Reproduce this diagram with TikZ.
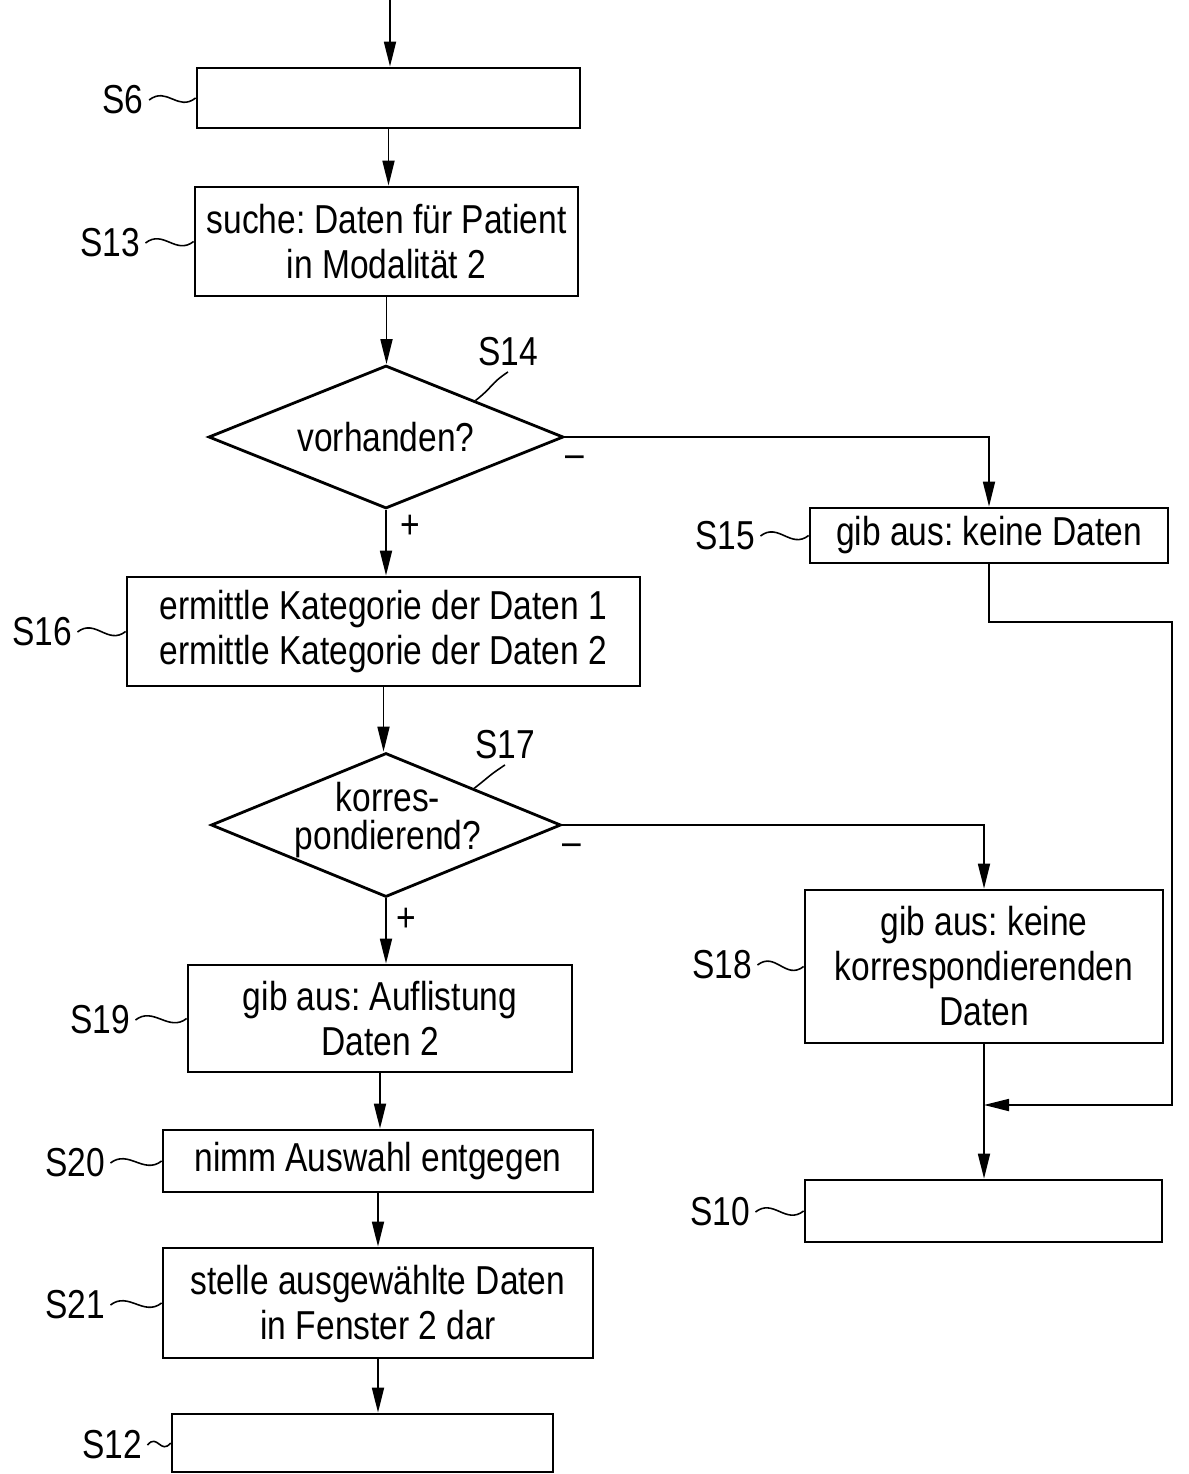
\documentclass[tikz,border=0pt]{standalone}
\usepackage{fontspec}
\setmainfont[FakeStretch=0.83]{Liberation Sans}
\frenchspacing
\usetikzlibrary{arrows.meta,shapes.geometric}

\begin{document}
\begin{tikzpicture}[x=0.02cm,y=-0.02cm,
    every node/.style={font=\fontsize{23}{25.6}\selectfont},
    box/.style={draw,line width=1.6pt,align=center,inner sep=0pt},
    dec/.style={draw,diamond,line width=1.6pt,inner sep=0pt},
    flow/.style={line width=1pt,-{Triangle[length=0.5cm,width=0.24cm]}},
    squig/.style={line width=0.9pt},
    lbl/.style={inner sep=3pt}]
            \useasboundingbox (0,0) rectangle (1189,1474);

            % Main column
            \coordinate (top) at (390,0);
            \node [box,minimum width=7.66cm,minimum height=1.2cm] (s6) at (388.5,98) {};
            \node [box,minimum width=7.66cm,minimum height=2.18cm] (s13) at (386.5,241.5) {suche: Daten für Patient\\in Modalität 2};
            \node [dec,minimum width=7.1cm,minimum height=2.86cm] (d14) at (386,437) {};
            \node (t14) at (d14) {vorhanden?};
            \node [box,minimum width=10.26cm,minimum height=2.18cm] (s16) at (383.5,631.5) {ermittle Kategorie der Daten 1\\ermittle Kategorie der Daten 2};
            \node [dec,minimum width=7.0cm,minimum height=2.88cm] (d17) at (386,825) {};
            \node [align=center,font=\fontsize{23}{21.6}\selectfont] (t17) at (388,820) {korres-\\pondierend?};
            \node [box,minimum width=7.68cm,minimum height=2.14cm] (s19) at (380,1018.5) {gib aus: Auflistung\\Daten 2};
            \node [box,minimum width=8.6cm,minimum height=1.24cm] (s20) at (378,1161) {nimm Auswahl entgegen};
            \node [box,minimum width=8.6cm,minimum height=2.2cm] (s21) at (378,1303) {stelle ausgewählte Daten\\in Fenster 2 dar};
            \node [box,minimum width=7.62cm,minimum height=1.16cm] (s12) at (362.5,1443) {};

            % Right column
            \node [box,minimum width=7.16cm,minimum height=1.1cm] (s15) at (989,535.5) {gib aus: keine Daten};
            \node [box,minimum width=7.16cm,minimum height=3.06cm] (s18) at (984,966.5) {gib aus: keine\\korrespondierenden\\Daten};
            \node [box,minimum width=7.14cm,minimum height=1.24cm] (s10) at (983.5,1211) {};
            \coordinate (r15) at (1172,622);
            \coordinate (j18) at (984,1105);

            % Labels
            \node [lbl] (l6) at (123,100) {S6};
            \node [lbl] (l13) at (110,243) {S13};
            \node [lbl] (l14) at (508,352) {S14};
            \node [lbl] (l15) at (725,536) {S15};
            \node [lbl] (l16) at (42,632) {S16};
            \node [lbl] (l17) at (505,745) {S17};
            \node [lbl] (l18) at (722,965) {S18};
            \node [lbl] (l10) at (720,1212) {S10};
            \node [lbl] (l19) at (100,1020) {S19};
            \node [lbl] (l20) at (75,1163) {S20};
            \node [lbl] (l21) at (75,1305) {S21};
            \node [lbl] (l12) at (112,1445) {S12};
            \draw [squig] (l6.east) .. controls +(18,-14) and +(-18,14) .. (s6.west);
            \draw [squig] (l13.east) .. controls +(18,-14) and +(-18,14) .. (s13.west);
            \draw [squig] (d14.north east) .. controls +(18,-14) and +(-18,12) .. (l14.south);
            \draw [squig] (l15.east) .. controls +(18,-14) and +(-18,14) .. (s15.west);
            \draw [squig] (l16.east) .. controls +(18,-14) and +(-18,14) .. (s16.west);
            \draw [squig] (d17.north east) .. controls +(18,-14) and +(-18,12) .. (l17.south);
            \draw [squig] (l18.east) .. controls +(18,-14) and +(-18,14) .. (s18.west);
            \draw [squig] (l10.east) .. controls +(18,-14) and +(-18,14) .. (s10.west);
            \draw [squig] (l19.east) .. controls +(18,-14) and +(-18,14) .. (s19.west);
            \draw [squig] (l20.east) .. controls +(18,-14) and +(-18,14) .. (s20.west);
            \draw [squig] (l21.east) .. controls +(18,-14) and +(-18,14) .. (s21.west);
            \draw [squig] (l12.east) .. controls +(10,-12) and +(-10,12) .. (s12.west);

            % Signs
            \node (m14) at (575,462) {--};
            \node (p14) at (410,527) {+};
            \node (m17) at (572,850) {--};
            \node (p17) at (406,920) {+};

            % Flow
            \draw [flow] (top) -- (top |- s6.north);
            \draw [flow] (s6.south) -- (s6.south |- s13.north);
            \draw [flow] (s13.south) -- (s13.south |- d14.north);
            \draw [flow] (d14.south) -- (d14.south |- s16.north);
            \draw [flow] (s16.south) -- (s16.south |- d17.north);
            \draw [flow] (d17.south) -- (d17.south |- s19.north);
            \draw [flow] (s19.south) -- (s19.south |- s20.north);
            \draw [flow] (s20.south) -- (s20.south |- s21.north);
            \draw [flow] (s21.south) -- (s21.south |- s12.north);
            \draw [flow] (d14.east) -| (s15.north);
            \draw [flow] (d17.east) -| (s18.north);
            \draw [flow] (s18.south) -- (s18.south |- s10.north);
            \draw [flow] (s15.south) |- (r15) |- (j18);
        \end{tikzpicture}
\end{document}
